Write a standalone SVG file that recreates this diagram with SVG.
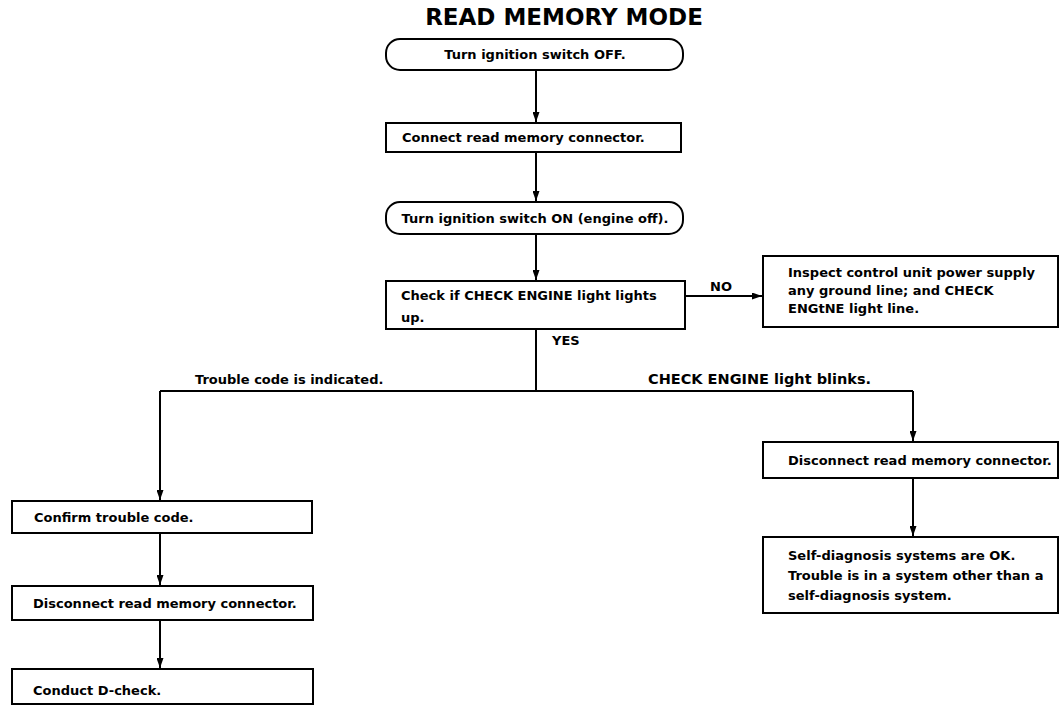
<svg xmlns="http://www.w3.org/2000/svg" width="1061" height="707" viewBox="0 0 1061 707">
<style>
.bx{fill:#fff;stroke:#000;stroke-width:2}
.t{font-family:"DejaVu Sans","Liberation Sans",sans-serif;font-weight:bold;font-size:13px;fill:#000}
.c{text-anchor:middle}
.ln{fill:none;stroke:#000;stroke-width:2}
.title{font-family:"DejaVu Sans","Liberation Sans",sans-serif;font-weight:bold;font-size:23px;fill:#000;text-anchor:middle}
</style>
<defs>
<marker id="arr" markerUnits="userSpaceOnUse" markerWidth="11" markerHeight="7" refX="10" refY="3.5" orient="auto">
<path d="M0,0 L10,3.5 L0,7 z" fill="#000"/>
</marker>
</defs>
<rect width="1061" height="707" fill="#fff"/>
<text class="title" x="564" y="25">READ MEMORY MODE</text>

<g id="connectors">
<line class="ln" x1="536" y1="70" x2="536" y2="122" marker-end="url(#arr)"/>
<line class="ln" x1="536" y1="152" x2="536" y2="201" marker-end="url(#arr)"/>
<line class="ln" x1="536" y1="234" x2="536" y2="280" marker-end="url(#arr)"/>
<line class="ln" x1="685" y1="296" x2="762" y2="296" marker-end="url(#arr)"/>
<polyline class="ln" points="536,329 536,391"/>
<polyline class="ln" points="160,391 913,391"/>
<line class="ln" x1="160" y1="391" x2="160" y2="500" marker-end="url(#arr)"/>
<line class="ln" x1="913" y1="391" x2="913" y2="441" marker-end="url(#arr)"/>
<line class="ln" x1="160" y1="533" x2="160" y2="585" marker-end="url(#arr)"/>
<line class="ln" x1="160" y1="620" x2="160" y2="668" marker-end="url(#arr)"/>
<line class="ln" x1="913" y1="478" x2="913" y2="536" marker-end="url(#arr)"/>
<text class="t" x="710" y="291">NO</text>
<text class="t" x="552" y="345">YES</text>
<text class="t" x="195" y="384">Trouble code is indicated.</text>
<text class="t" x="648" y="384" style="font-size:14.5px">CHECK ENGINE light blinks.</text>
</g>

<g id="n1">
<rect class="bx" x="386" y="39" width="297" height="31" rx="14" ry="14"/>
<text class="t c" x="535" y="59">Turn ignition switch OFF.</text>
</g>
<g id="n2">
<rect class="bx" x="386" y="123" width="295" height="29"/>
<text class="t" x="402" y="142">Connect read memory connector.</text>
</g>
<g id="n3">
<rect class="bx" x="386" y="202" width="297" height="32" rx="14" ry="14"/>
<text class="t c" x="535" y="223">Turn ignition switch ON (engine off).</text>
</g>
<g id="n4">
<rect class="bx" x="386" y="281" width="299" height="48"/>
<text class="t" x="401" y="300">Check if CHECK ENGINE light lights</text>
<text class="t" x="401" y="322">up.</text>
</g>
<g id="n5">
<rect class="bx" x="763" y="256" width="295" height="71"/>
<text class="t" x="788" y="277">Inspect control unit power supply</text>
<text class="t" x="788" y="295">any ground line; and CHECK</text>
<text class="t" x="788" y="313">ENGtNE light line.</text>
</g>
<g id="n6">
<rect class="bx" x="12" y="501" width="300" height="32"/>
<text class="t" x="34" y="522">Confirm trouble code.</text>
</g>
<g id="n7">
<rect class="bx" x="12" y="586" width="301" height="34"/>
<text class="t" x="33" y="608">Disconnect read memory connector.</text>
</g>
<g id="n8">
<rect class="bx" x="12" y="669" width="301" height="35"/>
<text class="t" x="33" y="695">Conduct D-check.</text>
</g>
<g id="n9">
<rect class="bx" x="763" y="442" width="295" height="36"/>
<text class="t" x="788" y="465">Disconnect read memory connector.</text>
</g>
<g id="n10">
<rect class="bx" x="763" y="537" width="295" height="76"/>
<text class="t" x="788" y="560">Self-diagnosis systems are OK.</text>
<text class="t" x="788" y="580">Trouble is in a system other than a</text>
<text class="t" x="788" y="600">self-diagnosis system.</text>
</g>
</svg>
